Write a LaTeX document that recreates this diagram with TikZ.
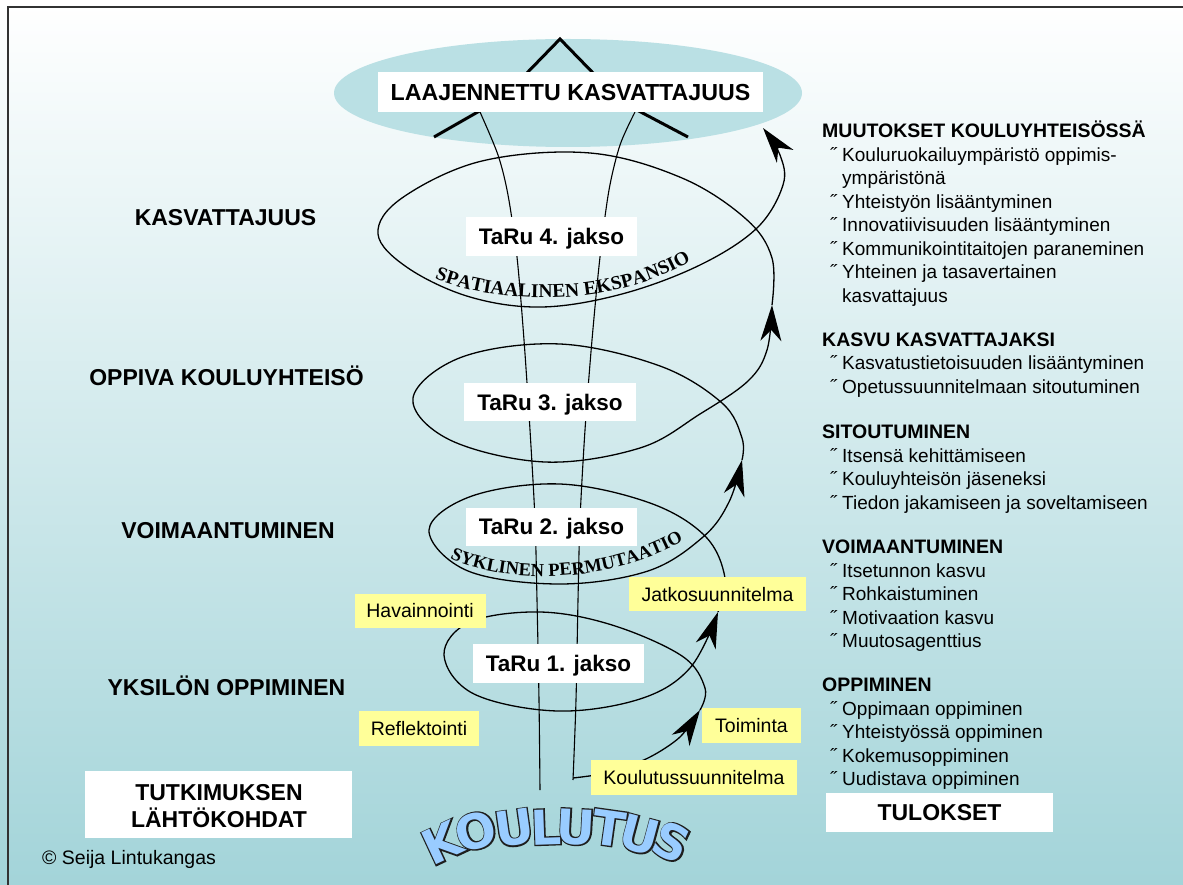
\documentclass[tikz,border=0pt]{standalone}
\usepackage{fontspec}
\setmainfont{Liberation Sans}
\newfontfamily\serifface{Liberation Serif}
\newfontfamily\wafont{DejaVu Sans}
\newfontfamily\waedge{DejaVu Sans}[BoldFeatures={FakeBold=5.5}]
\usetikzlibrary{arrows.meta,decorations.text}

\definecolor{bgteal}{RGB}{163,212,217}
\definecolor{capteal}{RGB}{186,224,228}
\definecolor{noteyellow}{RGB}{255,255,153}
\definecolor{wordblue}{RGB}{153,204,255}
\definecolor{wordedge}{RGB}{30,30,30}
\definecolor{framegray}{RGB}{50,50,50}

\tikzset{
  spiral/.style={line width=1.3pt, black},
  axisline/.style={line width=1.1pt, black},
  bigtip/.style={-{Stealth[length=36pt,width=21pt,inset=11pt]}},
  roof/.style={line width=3pt, black},
  whitebox/.style={fill=white, inner sep=0pt, text height=16.1pt, text depth=0pt,
    font=\bfseries\fontsize{22.5}{27}\selectfont},
  notebox/.style={fill=noteyellow, inner sep=0pt, text height=14pt, text depth=0pt,
    font=\fontsize{19.5}{23}\selectfont},
  levellabel/.style={anchor=base, inner sep=0pt, font=\bfseries\fontsize{23}{27}\selectfont},
  reshead/.style={anchor=base west, inner sep=0pt, font=\bfseries\fontsize{19.5}{23}\selectfont},
  resitem/.style={anchor=base west, inner sep=0pt, font=\fontsize{19}{23}\selectfont},
  resbullet/.style={anchor=base west, inner sep=0pt, font=\fontsize{19}{23}\selectfont},
  wordart/.style={inner sep=0pt, font=\wafont\bfseries\fontsize{48}{48}\selectfont},
  wordrim/.style={inner sep=0pt, font=\waedge\bfseries\fontsize{48}{48}\selectfont},
}

\begin{document}
\begin{tikzpicture}[x=1pt,y=-1pt]
\useasboundingbox (0,0) rectangle (1183,885);

% background and frame
\shade[top color=white, bottom color=bgteal] (0,0) rectangle (1183,885);
\draw[line width=2pt, framegray] (8,885) -- (8,7) -- (1183,7);

% top cap
\fill[capteal] (568,93) ellipse [x radius=234, y radius=54];
\draw[roof] (524,76) -- (560,39) -- (596,76);
\draw[roof] (483,109) -- (434,137);
\draw[roof] (635,109) -- (688,137);

% two axis lines rising from the base
\draw[axisline] plot[smooth] coordinates {(540,790) (539,700) (537,600) (535,520) (530,430) (524,340) (517,257) (508,195) (498,155) (480,112)};
\draw[axisline] plot[smooth] coordinates {(573,780) (576,700) (578,600) (580,520) (585,430) (592,340) (600,257) (609,190) (620,145) (635,112)};

% spiral, one turn per period
\coordinate (s0) at (573,778);
\coordinate (a0) at (700,710);
\coordinate (a1) at (718,612);
\coordinate (a2) at (742,460);
\coordinate (a3) at (772,305);
\coordinate (a4) at (763,128);
\draw[spiral, bigtip] plot[smooth] coordinates {(s0) (612,772) (650,757) (680,737) (a0)};
\draw[spiral, bigtip] plot[smooth, tension=0.6] coordinates {(a0) (705,688) (682,656) (612,625) (540,612) (470,622) (444,655) (474,694) (557,711) (640,699) (690,668) (a1)};
\draw[spiral, bigtip] plot[smooth, tension=0.6] coordinates {(a1) (725,578) (705,536) (650,503) (560,484) (472,496) (429,530) (468,571) (560,584) (648,571) (703,537) (729,502) (a2)};
\draw[spiral, bigtip] plot[smooth, tension=0.6] coordinates {(a2) (742,438) (722,403) (660,366) (560,344) (462,357) (413,398) (450,440) (545,462) (640,448) (700,414) (748,381) (767,350) (a3)};
\draw[spiral, bigtip] plot[smooth, tension=0.6] coordinates {(a3) (772,258) (746,219) (682,178) (590,153) (482,161) (402,198) (378,234) (408,268) (470,297) (542,307) (622,294) (700,265) (757,228) (783,185) (780,155) (a4)};

% curved captions under the turns
\path[decorate, decoration={text along path, text align=center,
  text={|\serifface\bfseries\fontsize{19.5}{19.5}\selectfont|SPATIAALINEN EKSPANSIO}}]
  (428,276) .. controls (500,308) and (620,307) .. (697,257);
\path[decorate, decoration={text along path, text align=center,
  text={|\serifface\bfseries\fontsize{18.5}{18.5}\selectfont|SYKLINEN PERMUTAATIO}}]
  (443,555) .. controls (500,586) and (610,586) .. (690,537);

% headline box
\node[whitebox, minimum width=385pt, minimum height=40pt, text height=16.6pt,
  font=\bfseries\fontsize{23.2}{27}\selectfont] (cap) at (570.5,92) {LAAJENNETTU KASVATTAJUUS};

% period boxes
\node[whitebox, minimum width=171pt, minimum height=39pt] (p4) at (551.5,236.5) {TaRu 4. jakso};
\node[whitebox, minimum width=172pt, minimum height=38pt] (p3) at (550,402) {TaRu 3. jakso};
\node[whitebox, minimum width=171pt, minimum height=38pt] (p2) at (551.5,526.5) {TaRu 2. jakso};
\node[whitebox, minimum width=171pt, minimum height=39pt] (p1) at (558.5,663.5) {TaRu 1. jakso};

% action research cycle notes
\node[notebox, minimum width=131pt, minimum height=34pt] (obs) at (420,610.5) {Havainnointi};
\node[notebox, minimum width=120pt, minimum height=35pt] (refl) at (419,728.5) {Reflektointi};
\node[notebox, minimum width=177pt, minimum height=34pt] (cont) at (717.5,594) {Jatkosuunnitelma};
\node[notebox, minimum width=99pt, minimum height=35pt] (act) at (751.5,725.5) {Toiminta};
\node[notebox, minimum width=206pt, minimum height=35pt] (plan) at (694,777.5) {Koulutussuunnitelma};

% level labels
\node[levellabel] (l4) at (225.5,226) {KASVATTAJUUS};
\node[levellabel] (l3) at (226.5,385) {OPPIVA KOULUYHTEISÖ};
\node[levellabel] (l2) at (228,538) {VOIMAANTUMINEN};
\node[levellabel] (l1) at (226.5,695) {YKSILÖN OPPIMINEN};

% bottom corners
\node[fill=white, minimum width=267pt, minimum height=67pt, inner sep=0pt] (start) at (218.5,804.5) {};
\node[levellabel] (start1) at (219,800) {TUTKIMUKSEN};
\node[levellabel] (start2) at (219,827) {LÄHTÖKOHDAT};
\node[whitebox, minimum width=227pt, minimum height=39pt, text height=16.4pt,
  font=\bfseries\fontsize{23}{27}\selectfont] (res) at (939.5,812.5) {TULOKSET};
\node[anchor=base west, inner sep=0pt, font=\fontsize{19.5}{23}\selectfont] (copy) at (42,864) {© Seija Lintukangas};

% results column
\node[reshead] (h1) at (822,138) {MUUTOKSET KOULUYHTEISÖSSÄ};
\foreach \yy/\txt/\bul [count=\n] in {161.5/Kouluruokailuympäristö oppimis-/1, 185/ympäristönä/0,
    208.5/Yhteistyön lisääntyminen/1, 232/Innovatiivisuuden lisääntyminen/1,
    255.5/Kommunikointitaitojen paraneminen/1, 279/Yhteinen ja tasavertainen/1, 302.5/kasvattajuus/0}{
  \node[resitem] (i1-\n) at (842,\yy) {\txt};
  \ifnum\bul=1 \node[resbullet] (b1-\n) at (830,\yy) {˝}; \fi
}
\node[reshead] (h2) at (822,346) {KASVU KASVATTAJAKSI};
\foreach \yy/\txt [count=\n] in {369.5/Kasvatustietoisuuden lisääntyminen, 393/Opetussuunnitelmaan sitoutuminen}{
  \node[resitem] (i2-\n) at (842,\yy) {\txt};
  \node[resbullet] (b2-\n) at (830,\yy) {˝};
}
\node[reshead] (h3) at (822,438) {SITOUTUMINEN};
\foreach \yy/\txt [count=\n] in {462/Itsensä kehittämiseen, 485.5/Kouluyhteisön jäseneksi, 509/Tiedon jakamiseen ja soveltamiseen}{
  \node[resitem] (i3-\n) at (842,\yy) {\txt};
  \node[resbullet] (b3-\n) at (830,\yy) {˝};
}
\node[reshead] (h4) at (822,553) {VOIMAANTUMINEN};
\foreach \yy/\txt [count=\n] in {577/Itsetunnon kasvu, 600.5/Rohkaistuminen, 624/Motivaation kasvu, 647.5/Muutosagenttius}{
  \node[resitem] (i4-\n) at (842,\yy) {\txt};
  \node[resbullet] (b4-\n) at (830,\yy) {˝};
}
\node[reshead] (h5) at (822,691) {OPPIMINEN};
\foreach \yy/\txt [count=\n] in {715/Oppimaan oppiminen, 738.5/Yhteistyössä oppiminen, 762/Kokemusoppiminen, 785.5/Uudistava oppiminen}{
  \node[resitem] (i5-\n) at (842,\yy) {\txt};
  \node[resbullet] (b5-\n) at (830,\yy) {˝};
}

% arched outlined word at the base: a stroked dark glyph under a light fill
\foreach \ch/\px/\py/\ang [count=\i] in {K/442/843/25, O/476/831/15, U/514/828/8, L/546/827/2,
    U/576/827/-3, T/609/828/-8, U/640/835/-15, S/672/842/-25}{
  \node[wordrim, text=wordedge, rotate=\ang] (rim\i) at (\px,\py) {\ch};
  \node[wordart, text=wordblue, rotate=\ang] (letter\i) at (\px,\py) {\ch};
}
\end{tikzpicture}
\end{document}
